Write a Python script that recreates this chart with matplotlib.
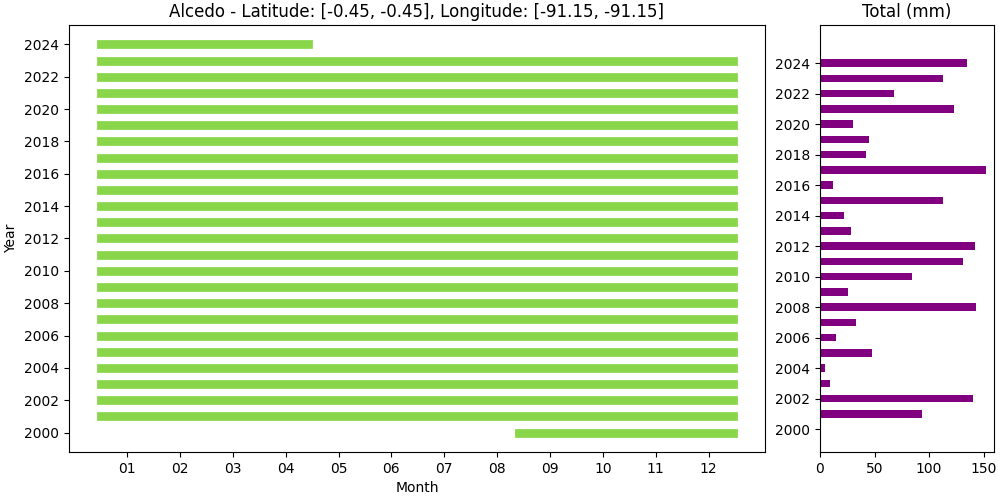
import matplotlib.pyplot as plt

# ==== data ====
years = list(range(2000, 2025))
# coverage span per year, in fractional month units (0.5 = start of Jan, 12.47 = end of Dec)
span_start = [8.42] + [0.5] * 24
span_end = [12.47] * 24 + [4.43]
# yearly total precipitation (mm)
totals = [0, 94, 140, 9, 5, 48, 15, 33, 143, 26, 84, 131, 142,
          28, 22, 113, 12, 152, 42, 45, 30, 123, 68, 113, 135]

month_ticks = list(range(1, 13))
month_labels = [f"{m:02d}" for m in month_ticks]
year_ticks = list(range(2000, 2025, 2))

fig = plt.figure(figsize=(10, 5), dpi=100)
ax = fig.add_axes([0.069, 0.096, 0.696, 0.854])
ax2 = fig.add_axes([0.820, 0.096, 0.174, 0.854])

# ==== coverage lines ====
for y, s, e in zip(years, span_start, span_end):
    ax.plot([s, e], [y, y], color='#89d64a', linewidth=6.3, solid_capstyle='projecting')

ax.set_xticks(month_ticks)
ax.set_xticklabels(month_labels)
ax.set_yticks(year_ticks)
ax.set_xlabel("Month")
ax.set_ylabel("Year")
ax.set_title("Alcedo - Latitude: [-0.45, -0.45], Longitude: [-91.15, -91.15]")

# ==== totals ====
ax2.barh(years, totals, height=0.5, color='purple')
ax2.set_yticks(year_ticks)
ax2.set_ylim(1998.5, 2026.5)
ax2.set_title("Total (mm)")

fig.savefig("out.png", dpi=100)
